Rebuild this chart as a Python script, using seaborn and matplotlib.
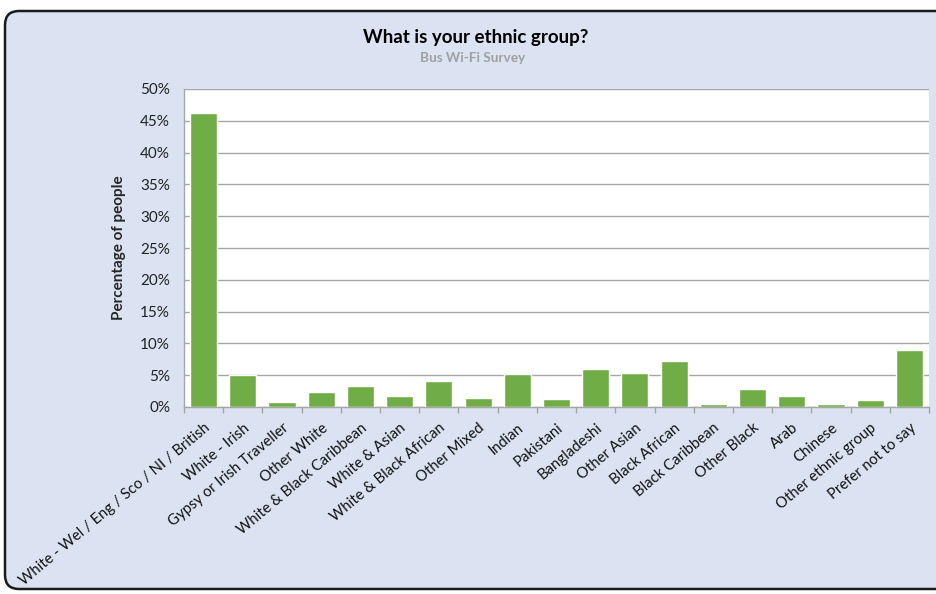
import matplotlib
matplotlib.use("Agg")
import matplotlib.pyplot as plt
import matplotlib.transforms as mtransforms
import seaborn as sns
import pandas as pd
from matplotlib.patches import FancyBboxPatch
from matplotlib.ticker import FuncFormatter, MultipleLocator, FixedLocator

categories = [
    "White - Wel / Eng / Sco / NI / British", "White - Irish", "Gypsy or Irish Traveller",
    "Other White", "White & Black Caribbean", "White & Asian", "White & Black African",
    "Other Mixed", "Indian", "Pakistani", "Bangladeshi", "Other Asian", "Black African",
    "Black Caribbean", "Other Black", "Arab", "Chinese", "Other ethnic group",
    "Prefer not to say",
]
values = [46.2, 5.0, 0.8, 2.3, 3.35, 1.7, 4.1, 1.35, 5.25, 1.25, 6.0, 5.35, 7.3,
          0.4, 2.9, 1.8, 0.5, 1.05, 9.0]

title = "What is your ethnic group?"
subtitle = "Bus Wi-Fi Survey"
ylabel = "Percentage of people"

sns.set_theme(style="white")
plt.rcParams["font.family"] = ["Lato", "DejaVu Sans"]

W, H = 937, 594
bg = "#dbe3f2"
fig = plt.figure(figsize=(W / 100, H / 100), dpi=100)
fig.patch.set_facecolor("white")
x0, y0 = 5, 5          # left, bottom in px
x1, y1 = 960, 583      # right (off-canvas), top in px
border = FancyBboxPatch((x0 / W, y0 / H), (x1 - x0) / W, (y1 - y0) / H,
                        boxstyle="round,pad=0,rounding_size=0.015",
                        transform=fig.transFigure, facecolor=bg, edgecolor="#1a1a1a",
                        linewidth=1.8, zorder=-5, mutation_aspect=W / H)
fig.patches.append(border)

ax = fig.add_axes([184 / W, 1 - 407 / H, (929 - 184) / W, (407 - 89) / H])
ax.set_zorder(1)
ax.set_facecolor("white")
df = pd.DataFrame({"cat": categories, "val": values})
sns.barplot(data=df, x="cat", y="val", color="#70ad47", saturation=1, width=0.69,
            ax=ax, zorder=3)

ax.set_ylim(0, 50)
ax.set_xlim(-0.5, len(categories) - 0.5)
ax.yaxis.set_major_locator(MultipleLocator(5))
ax.yaxis.set_major_formatter(FuncFormatter(lambda v, p: f"{v:.0f}%"))
ax.grid(axis="y", color="#a6a6a6", linewidth=1, zorder=0)
ax.set_axisbelow(True)
for s in ["top", "right"]:
    ax.spines[s].set_visible(False)
for s in ["left", "bottom"]:
    ax.spines[s].set_color("#a6a6a6")
    ax.spines[s].set_linewidth(1)

ax.set_xticks(range(len(categories)))
ax.set_xticklabels(categories, rotation=40, ha="right", va="top", rotation_mode="anchor",
                   fontsize=10.7, color="#111111")
offset = mtransforms.ScaledTranslation(4 / 100, 0, fig.dpi_scale_trans)
for lbl in ax.get_xticklabels():
    lbl.set_transform(lbl.get_transform() + offset)
ax.xaxis.set_minor_locator(FixedLocator([i - 0.5 for i in range(len(categories) + 1)]))
ax.tick_params(axis="x", which="major", length=0, pad=10)
ax.tick_params(axis="x", which="minor", length=4, color="#a6a6a6", width=1,
               direction="out", bottom=True)
ax.tick_params(axis="y", length=0, labelsize=11, labelcolor="#222222", pad=10)
ax.set_xlabel("")
ax.set_ylabel(ylabel, fontsize=11, fontweight="bold", labelpad=10)

fig.text(476 / W, 1 - 37 / H, title, ha="center", va="center", fontsize=13.5,
         fontweight="bold", color="black")
fig.text(473 / W, 1 - 58 / H, subtitle, ha="center", va="center", fontsize=9.8,
         fontweight="bold", color="#a0a0a0")

fig.savefig("out.png", dpi=100, facecolor=fig.get_facecolor())
